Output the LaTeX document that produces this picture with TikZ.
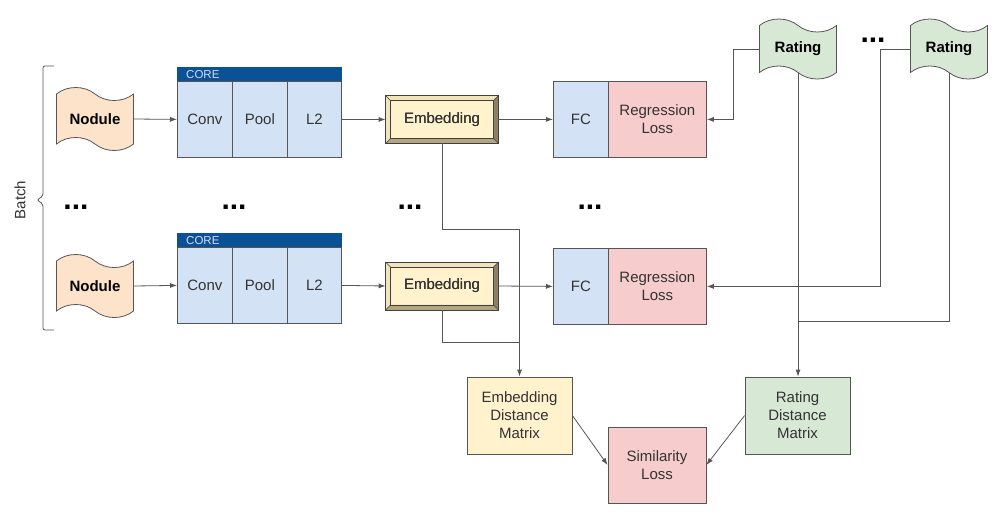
\documentclass[tikz,border=0pt]{standalone}
\usepackage{fontspec}
\setmainfont{Liberation Sans}
\usetikzlibrary{arrows.meta,shapes.symbols}

\definecolor{bluefill}{HTML}{D3E3F5}
\definecolor{redfill}{HTML}{F6CDCC}
\definecolor{greenfill}{HTML}{D7E9D5}
\definecolor{yelfill}{HTML}{FFF2CC}
\definecolor{peachfill}{HTML}{FDE3C9}
\definecolor{corehead}{HTML}{0B5195}
\definecolor{linegray}{HTML}{555555}
\definecolor{txtgray}{HTML}{333333}
\definecolor{bevlight}{HTML}{F1E4BA}
\definecolor{bevmid}{HTML}{B3A57E}
\definecolor{bevdark}{HTML}{8C8163}

\tikzset{
  box/.style={draw=linegray, line width=0.8pt, align=center, inner sep=0pt,
    text=txtgray, font=\fontsize{15}{18}\selectfont},
  cell/.style={box, fill=bluefill, minimum width=55pt, minimum height=76pt, anchor=north west},
  headbar/.style={fill=corehead, draw=corehead, minimum height=14pt, text width=146pt,
    inner xsep=9pt, inner ysep=0pt, align=left, anchor=north west, text=white!85!blue,
    font=\fontsize{11.5}{12}\selectfont},
  tapebox/.style={shape=tape, draw=linegray, line width=0.8pt, fill=#1, minimum width=77pt,
    minimum height=60pt, tape bend top=out and in, tape bend bottom=out and in,
    tape bend height=13pt, inner sep=0pt, font=\bfseries\fontsize{15}{18}\selectfont},
  embbox/.style={box, draw=black!75, fill=yelfill, minimum width=112pt, minimum height=47pt},
  dots/.style={font=\bfseries\fontsize{30}{30}\selectfont, inner sep=0pt},
  conn/.style={draw=linegray, line width=0.8pt},
  arr/.style={conn, -{Latex[length=7pt,width=5pt]}}
}

% bevel around an embedding box
\newcommand{\bevelfaces}[1]{%
  \fill[bevlight] (#1.north west) -- (#1.north east) -- ([xshift=-5pt,yshift=-5pt]#1.north east)
    -- ([xshift=5pt,yshift=-5pt]#1.north west) -- cycle;
  \fill[bevlight] (#1.north west) -- ([xshift=5pt,yshift=-5pt]#1.north west)
    -- ([xshift=5pt,yshift=5pt]#1.south west) -- (#1.south west) -- cycle;
  \fill[bevdark] (#1.north east) -- (#1.south east) -- ([xshift=-5pt,yshift=5pt]#1.south east)
    -- ([xshift=-5pt,yshift=-5pt]#1.north east) -- cycle;
  \fill[bevmid] (#1.south west) -- (#1.south east) -- ([xshift=-5pt,yshift=5pt]#1.south east)
    -- ([xshift=5pt,yshift=5pt]#1.south west) -- cycle;
  \draw[black!75, line width=0.6pt] (#1.north west) rectangle (#1.south east);
  \draw[black!75, line width=0.6pt] ([xshift=5pt,yshift=-5pt]#1.north west)
    rectangle ([xshift=-5pt,yshift=5pt]#1.south east);
  \draw[black!75, line width=0.5pt] (#1.north west) -- ([xshift=5pt,yshift=-5pt]#1.north west)
    (#1.north east) -- ([xshift=-5pt,yshift=-5pt]#1.north east)
    (#1.south west) -- ([xshift=5pt,yshift=5pt]#1.south west)
    (#1.south east) -- ([xshift=-5pt,yshift=5pt]#1.south east);
}

\begin{document}
\begin{tikzpicture}[x=1pt, y=-1pt]
  \useasboundingbox (0,0) rectangle (995,525);

  % batch bracket
  \draw[conn, rounded corners=2pt] (54,66) -- (43,66) -- (43,196) -- (37,200) -- (43,204)
    -- (43,330) -- (54,330);
  \node[rotate=90, font=\fontsize{15}{18}\selectfont, text=txtgray] (batch) at (20,200) {Batch};

  % inputs
  \node[tapebox=peachfill, minimum height=63pt] (nod1) at (95,119) {Nodule};
  \node[tapebox=peachfill, minimum height=63pt] (nod2) at (95,286) {Nodule};

  % core, first row
  \node[headbar] (core1) at (177,67) {CORE};
  \node[cell] (conv1) at (177,81) {Conv};
  \node[cell] (pool1) at (232,81) {Pool};
  \node[cell, minimum width=54pt] (l21) at (287,81) {L2};
  % core, second row
  \node[headbar] (core2) at (177,233) {CORE};
  \node[cell] (conv2) at (177,247) {Conv};
  \node[cell] (pool2) at (232,247) {Pool};
  \node[cell, minimum width=54pt] (l22) at (287,247) {L2};

  % embeddings
  \node[embbox] (emb1) at (442,119.5) {Embedding};
  \bevelfaces{emb1}
  \node[embbox, fill=none, draw=none] at (emb1) {Embedding};
  \node[embbox] (emb2) at (442,286) {Embedding};
  \bevelfaces{emb2}
  \node[embbox, fill=none, draw=none] at (emb2) {Embedding};

  % heads
  \node[cell] (fc1) at (553,81) {FC};
  \node[box, fill=redfill, minimum width=98pt, minimum height=76pt, anchor=north west] (reg1) at (608,81) {Regression\\Loss};
  \node[cell] (fc2) at (553,248) {FC};
  \node[box, fill=redfill, minimum width=98pt, minimum height=76pt, anchor=north west] (reg2) at (608,248) {Regression\\Loss};

  % ratings
  \node[tapebox=greenfill] (rat1) at (798,49) {Rating};
  \node[tapebox=greenfill] (rat2) at (949,49) {Rating};

  % distance matrices and similarity
  \node[box, fill=yelfill, minimum width=105pt, minimum height=77pt] (edm) at (519.5,415.5) {Embedding\\Distance\\Matrix};
  \node[box, fill=greenfill, minimum width=105pt, minimum height=77pt] (rdm) at (797.5,415.5) {Rating\\Distance\\Matrix};
  \node[box, fill=redfill, minimum width=98pt, minimum height=76pt] (sl) at (657,465) {Similarity\\Loss};

  % ellipses
  \node[dots] (dotsA) at (76,207) {...};
  \node[dots] (dotsB) at (234,207) {...};
  \node[dots] (dotsC) at (410,207) {...};
  \node[dots] (dotsD) at (590,207) {...};
  \node[dots] (dotsE) at (873,40) {...};

  % rows
  \draw[arr] (nod1.east) -- (conv1.west);
  \draw[arr] (l21.east) -- (emb1.west);
  \draw[arr] (emb1.east) -- (fc1.west);
  \draw[arr] (nod2.east) -- (conv2.west);
  \draw[arr] (l22.east) -- (emb2.west);
  \draw[arr] (emb2.east) -- (fc2.west);

  % ratings to losses
  \draw[arr] (rat1.west) -| ([xshift=27pt]reg1.east) -- (reg1.east);
  \draw[arr] (rat2.west) -| ([xshift=174pt]reg2.east) -- (reg2.east);
  \draw[arr] (rat1.south) -- (rat1.south |- rdm.north);
  \draw[conn] (rat2.south) |- ([yshift=55pt]rdm.north);

  % embeddings to distance matrix
  \draw[arr] (emb1.south) |- ([yshift=147pt]edm.north) -- (edm.north);
  \draw[conn] (emb2.south) |- ([yshift=34pt]edm.north);

  \draw[arr] (edm.east) -- (sl.west);
  \draw[arr] (rdm.west) -- (sl.east);
\end{tikzpicture}
\end{document}
